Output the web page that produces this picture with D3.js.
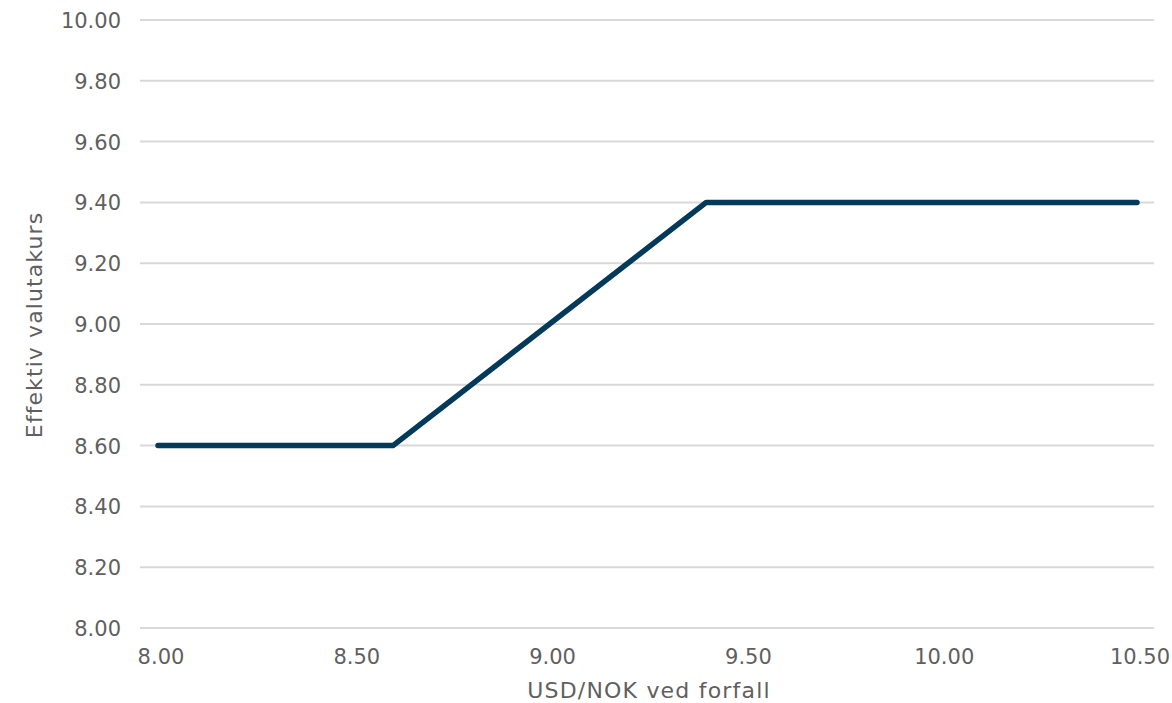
<!DOCTYPE html>
<html>
<head>
<meta charset="utf-8">
<script src="https://cdn.jsdelivr.net/npm/d3@7"></script>
<style>
  html, body { margin: 0; padding: 0; background: #fff; }
  svg text { font-family: "DejaVu Sans", sans-serif; fill: #5f5f5f; }
</style>
</head>
<body>
<svg id="chart" width="1172" height="703"></svg>
<script>
// Spot rate at maturity (USD/NOK) and resulting effective rate
const spotAtMaturity = [8.00, 8.60, 9.40, 10.50];
const effectiveRate  = [8.60, 8.60, 9.40, 9.40];
const xTicks = [8.00, 8.50, 9.00, 9.50, 10.00, 10.50];
const yTicks = [8.00, 8.20, 8.40, 8.60, 8.80, 9.00, 9.20, 9.40, 9.60, 9.80, 10.00];
const xTitle = "USD/NOK ved forfall";
const yTitle = "Effektiv valutakurs";

const svg = d3.select("#chart");
const plotLeft = 140, plotRight = 1154;
const x = d3.scaleLinear().domain([8.0, 10.5]).range([158, 1137]);
const y = d3.scaleLinear().domain([8.0, 10.0]).range([628, 20]);
const fmt = d3.format(".2f");

// horizontal gridlines
svg.append("g")
  .selectAll("line")
  .data(yTicks)
  .join("line")
  .attr("x1", plotLeft).attr("x2", plotRight)
  .attr("y1", d => y(d)).attr("y2", d => y(d))
  .attr("stroke", "#d9d9d9").attr("stroke-width", 2);

// y tick labels
svg.append("g")
  .selectAll("text")
  .data(yTicks)
  .join("text")
  .attr("x", 121).attr("y", d => y(d) + 1)
  .attr("text-anchor", "end").attr("dominant-baseline", "central")
  .attr("font-size", 21)
  .text(fmt);

// x tick labels
svg.append("g")
  .selectAll("text")
  .data(xTicks)
  .join("text")
  .attr("x", d => x(d) + 3).attr("y", 657)
  .attr("text-anchor", "middle").attr("dominant-baseline", "central")
  .attr("font-size", 21)
  .text(fmt);

// axis titles
svg.append("text")
  .attr("x", 649).attr("y", 690)
  .attr("text-anchor", "middle").attr("dominant-baseline", "central")
  .attr("font-size", 22)
  .attr("letter-spacing", 1.2)
  .text(xTitle);

svg.append("text")
  .attr("transform", `translate(34, ${y(9.0) + 1}) rotate(-90)`)
  .attr("text-anchor", "middle").attr("dominant-baseline", "central")
  .attr("font-size", 22)
  .attr("letter-spacing", 1.1)
  .text(yTitle);

// payoff line
const pts = spotAtMaturity.map((s, i) => [s, effectiveRate[i]]);
svg.append("path")
  .datum(pts)
  .attr("fill", "none")
  .attr("stroke", "#033a59")
  .attr("stroke-width", 5.5)
  .attr("stroke-linecap", "round")
  .attr("stroke-linejoin", "round")
  .attr("d", d3.line().x(d => x(d[0])).y(d => y(d[1])));
</script>
</body>
</html>
